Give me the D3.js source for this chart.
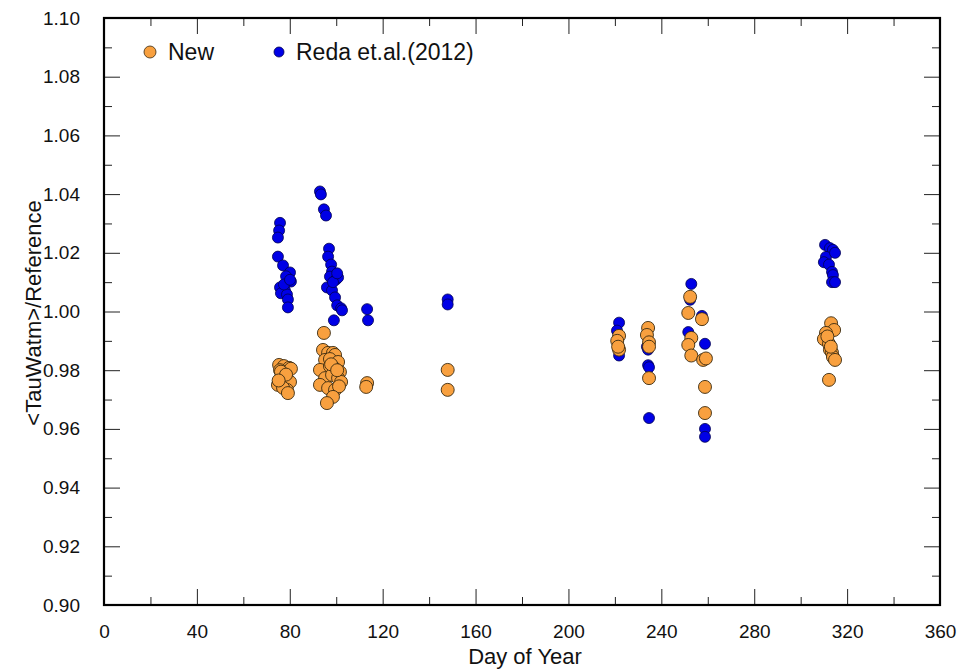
<!DOCTYPE html>
<html>
<head>
<meta charset="utf-8">
<script src="https://cdn.jsdelivr.net/npm/d3@7"></script>
<style>
	body { margin: 0; background: #ffffff; }
	text { font-family: "Liberation Sans", Arial, sans-serif; fill: #111; }
</style>
</head>
<body>
<svg id="chart" width="977" height="670"></svg>
<script>
// New
var newDay = [75.4,77.5,79.7,75.8,80.5,76.7,74.9,77.9,80.1,78.8,77.1,79.2,76.2,78.4,75.2,
	94.7,94.3,96.5,98.6,99.5,95.2,97.3,100.8,93.0,97.3,99.0,101.6,95.2,98.2,100.8,102.1,93.0,96.5,99.5,101.2,98.6,96.0,97.8,100.4,
	113.3,112.9,
	148.0,148.0,
	221.8,221.0,221.8,221.4,
	234.3,233.8,234.7,234.7,234.7,
	252.4,251.6,257.5,252.9,251.6,252.9,258.0,259.2,258.8,258.8,
	313.1,314.4,310.9,310.0,312.2,312.6,313.5,313.9,314.8,312.2,311.5,313.0];
var newVal = [0.9818,0.9814,0.9808,0.9800,0.9805,0.9770,0.9750,0.9753,0.9760,0.9733,0.9740,0.9722,0.9795,0.9785,0.9765,
	0.9927,0.9869,0.9859,0.9859,0.9852,0.9835,0.9838,0.9828,0.9801,0.9814,0.9808,0.9794,0.9773,0.9784,0.9773,0.9760,0.9750,0.9739,0.9733,0.9745,0.9709,0.9688,0.9820,0.9800,
	0.9756,0.9743,
	0.9801,0.9733,
	0.9917,0.9900,0.9870,0.9880,
	0.9944,0.9920,0.9895,0.9880,0.9773,
	1.0050,0.9995,0.9974,0.9910,0.9886,0.9850,0.9835,0.9840,0.9743,0.9654,
	0.9960,0.9937,0.9927,0.9906,0.9890,0.9870,0.9860,0.9845,0.9835,0.9767,0.9915,0.9880];

// Reda et.al.(2012)
var redaDay = [75.8,75.4,74.9,74.9,77.1,80.1,78.4,80.5,75.8,77.9,76.2,78.8,79.2,79.2,77.5,80.1,
	93.0,93.4,94.7,95.6,96.9,96.5,97.8,98.2,97.3,99.9,100.8,96.0,98.2,99.5,100.4,102.1,102.5,99.0,98.6,100.4,
	113.3,113.7,
	148.0,148.0,
	221.8,220.9,221.8,221.4,
	233.8,234.3,234.3,234.7,234.7,
	252.9,251.6,251.6,258.8,257.5,258.8,258.8,252.4,
	310.5,312.6,313.9,310.9,314.8,310.0,312.2,313.5,313.9,313.5,314.8];
var redaVal = [1.0302,1.0276,1.0252,1.0187,1.0157,1.0133,1.0120,1.0102,1.0082,1.0072,1.0062,1.0058,1.0041,1.0014,1.0092,1.0108,
	1.0409,1.0399,1.0348,1.0327,1.0214,1.0187,1.0160,1.0136,1.0119,1.0109,1.0116,1.0082,1.0072,1.0048,1.0021,1.0011,1.0004,0.9970,1.0100,1.0130,
	1.0008,0.9970,
	1.0041,1.0024,
	0.9962,0.9935,0.9850,0.9880,
	0.9880,0.9870,0.9817,0.9810,0.9637,
	1.0094,0.9995,0.9930,0.9890,0.9985,0.9600,0.9573,1.0040,
	1.0227,1.0216,1.0210,1.0186,1.0200,1.0168,1.0160,1.0135,1.0124,1.0100,1.0100];

var xTicks = [0,40,80,120,160,200,240,280,320,360];
var yTicks = [0.90,0.92,0.94,0.96,0.98,1.00,1.02,1.04,1.06,1.08,1.10];

var pL = 104, pR = 940, pT = 18, pB = 605;

var svg = d3.select("#chart");

var x = d3.scaleLinear().domain([0,360]).range([pL,pR]);
var y = d3.scaleLinear().domain([0.90,1.10]).range([pB,pT]);

// tick marks, pointing inward on all four sides
var xMinor = d3.range(20,360,40);
var yMinor = d3.range(0,10).map(function(i){ return 0.91 + i*0.02; });

function clean(g){
	g.select(".domain").remove();
	g.selectAll("line").attr("stroke","#222");
	g.selectAll("text").style("font-size","19px").attr("fill","#111");
}

svg.append("g")
	.attr("transform","translate(0,"+pB+")")
	.call(d3.axisBottom(x).tickValues(xTicks).tickSizeInner(-16).tickSizeOuter(0).tickFormat(d3.format("d")).tickPadding(20))
	.call(clean);
svg.append("g")
	.attr("transform","translate(0,"+pB+")")
	.call(d3.axisBottom(x).tickValues(xMinor).tickSizeInner(-8).tickSizeOuter(0).tickFormat(""))
	.call(clean);
svg.append("g")
	.attr("transform","translate(0,"+pT+")")
	.call(d3.axisTop(x).tickValues(xTicks).tickSizeInner(-16).tickSizeOuter(0).tickFormat(""))
	.call(clean);
svg.append("g")
	.attr("transform","translate(0,"+pT+")")
	.call(d3.axisTop(x).tickValues(xMinor).tickSizeInner(-8).tickSizeOuter(0).tickFormat(""))
	.call(clean);

svg.append("g")
	.attr("transform","translate("+pL+",0)")
	.call(d3.axisLeft(y).tickValues(yTicks).tickSizeInner(-16).tickSizeOuter(0).tickFormat(d3.format(".2f")).tickPadding(24))
	.call(clean);
svg.append("g")
	.attr("transform","translate("+pL+",0)")
	.call(d3.axisLeft(y).tickValues(yMinor).tickSizeInner(-8).tickSizeOuter(0).tickFormat(""))
	.call(clean);
svg.append("g")
	.attr("transform","translate("+pR+",0)")
	.call(d3.axisRight(y).tickValues(yTicks).tickSizeInner(-16).tickSizeOuter(0).tickFormat(""))
	.call(clean);
svg.append("g")
	.attr("transform","translate("+pR+",0)")
	.call(d3.axisRight(y).tickValues(yMinor).tickSizeInner(-8).tickSizeOuter(0).tickFormat(""))
	.call(clean);

// frame
svg.append("rect")
	.attr("x",pL)
	.attr("y",pT)
	.attr("width",pR-pL)
	.attr("height",pB-pT)
	.attr("fill","none")
	.attr("stroke","#000")
	.attr("stroke-width",2.2);

// points
var reda = d3.zip(redaDay,redaVal);
var newer = d3.zip(newDay,newVal);

svg.append("g").selectAll("circle")
	.data(reda)
	.enter().append("circle")
	.attr("cx",function(d){ return x(d[0]); })
	.attr("cy",function(d){ return y(d[1]); })
	.attr("r",5.5)
	.attr("fill","#0000e6")
	.attr("stroke","#000050")
	.attr("stroke-width",0.8);

svg.append("g").selectAll("circle")
	.data(newer)
	.enter().append("circle")
	.attr("cx",function(d){ return x(d[0]); })
	.attr("cy",function(d){ return y(d[1]); })
	.attr("r",6.5)
	.attr("fill","#f8a03f")
	.attr("stroke","#3a2a10")
	.attr("stroke-width",0.9);

// legend
var legend = svg.append("g");
legend.append("circle").attr("cx",150).attr("cy",52).attr("r",6)
	.attr("fill","#f8a03f").attr("stroke","#3a2a10").attr("stroke-width",0.8);
legend.append("text").attr("x",168).attr("y",60).style("font-size","23px").text("New");
legend.append("circle").attr("cx",279).attr("cy",52).attr("r",5)
	.attr("fill","#0000e6").attr("stroke","#000050").attr("stroke-width",0.8);
legend.append("text").attr("x",296).attr("y",60).style("font-size","23px").text("Reda et.al.(2012)");

// axis titles
svg.append("text")
	.attr("x",525)
	.attr("y",664)
	.attr("text-anchor","middle")
	.style("font-size","22px")
	.text("Day of Year");
svg.append("text")
	.attr("transform","translate(41,313) rotate(-90)")
	.attr("text-anchor","middle")
	.style("font-size","22px")
	.text("<TauWatm>/Reference");
</script>
</body>
</html>
